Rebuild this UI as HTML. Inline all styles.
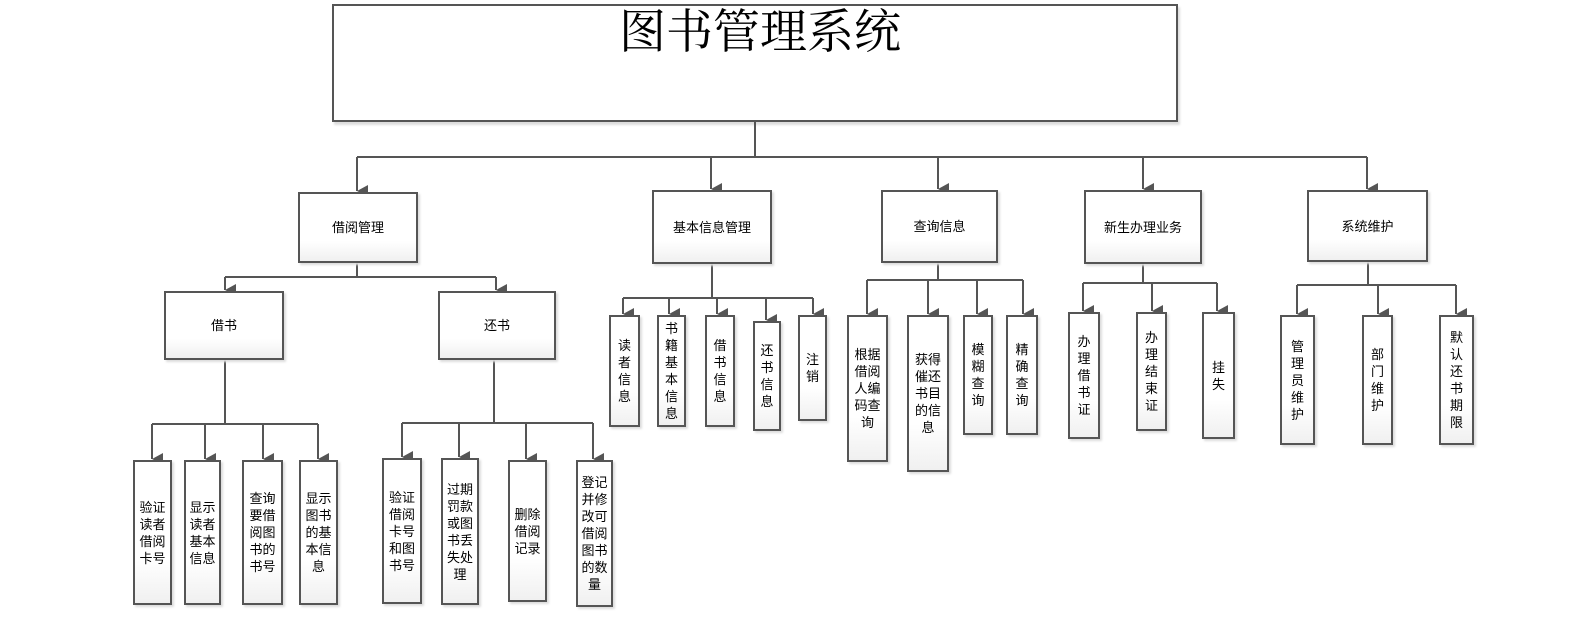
<!DOCTYPE html>
<html><head><meta charset="utf-8"><style>
html,body{margin:0;padding:0;background:#fff;}
body{width:1580px;height:636px;position:relative;overflow:hidden;font-family:"Liberation Sans","Noto Sans CJK SC",sans-serif;}
.b{position:absolute;box-sizing:border-box;border:2px solid #555;background:linear-gradient(#fff 70%,#f0f0f0);display:flex;align-items:center;justify-content:center;text-align:center;font-size:13px;line-height:17px;color:#000;box-shadow:2px 2px 2px #ddd;}
.t{position:absolute;left:332px;top:4px;width:846px;height:118px;box-sizing:border-box;border:2px solid #555;background:#fff;box-shadow:2px 3px 2px #ddd;}
.tt{position:absolute;left:560px;top:4px;width:400px;text-align:center;font-family:"Liberation Serif","Noto Serif CJK SC",serif;font-size:47px;line-height:58px;}
svg{position:absolute;left:0;top:0;}
</style></head><body>
<div class="t"></div>
<div class="tt">图书管理系统</div>
<svg width="1580" height="636">
<defs><marker id="a" markerUnits="userSpaceOnUse" markerWidth="12" markerHeight="12" refX="6" refY="11" orient="auto-start-reverse" viewBox="0 0 12 12"><path d="M0,0 L12,0 L6,11 z" fill="#555"/></marker></defs>
<g stroke="#555" stroke-width="2" fill="none">
<path d="M755 122 V157 M357 157 H1367"/>
<path d="M357 157 V191" marker-end="url(#a)"/>
<path d="M711 157 V189" marker-end="url(#a)"/>
<path d="M938 157 V189" marker-end="url(#a)"/>
<path d="M1143 157 V189" marker-end="url(#a)"/>
<path d="M1367 157 V189" marker-end="url(#a)"/>
<path d="M357 263 V277 M225 277 H496"/>
<path d="M225 277 V290" marker-end="url(#a)"/>
<path d="M496 277 V290" marker-end="url(#a)"/>
<path d="M225 360 V424 M152 424 H318"/>
<path d="M152 424 V459" marker-end="url(#a)"/>
<path d="M205 424 V459" marker-end="url(#a)"/>
<path d="M263 424 V459" marker-end="url(#a)"/>
<path d="M318 424 V459" marker-end="url(#a)"/>
<path d="M494 360 V423 M402 423 H593"/>
<path d="M402 423 V457" marker-end="url(#a)"/>
<path d="M459 423 V457" marker-end="url(#a)"/>
<path d="M526 423 V459" marker-end="url(#a)"/>
<path d="M593 423 V459" marker-end="url(#a)"/>
<path d="M712 264 V298 M623 298 H813"/>
<path d="M623 298 V314" marker-end="url(#a)"/>
<path d="M669 298 V314" marker-end="url(#a)"/>
<path d="M717 298 V314" marker-end="url(#a)"/>
<path d="M766 298 V320" marker-end="url(#a)"/>
<path d="M813 298 V314" marker-end="url(#a)"/>
<path d="M938 263 V280 M867 280 H1023"/>
<path d="M867 280 V314" marker-end="url(#a)"/>
<path d="M928 280 V314" marker-end="url(#a)"/>
<path d="M977 280 V314" marker-end="url(#a)"/>
<path d="M1023 280 V314" marker-end="url(#a)"/>
<path d="M1143 264 V283 M1083 283 H1217"/>
<path d="M1083 283 V311" marker-end="url(#a)"/>
<path d="M1152 283 V311" marker-end="url(#a)"/>
<path d="M1217 283 V311" marker-end="url(#a)"/>
<path d="M1368 262 V285 M1297 285 H1456"/>
<path d="M1297 285 V314" marker-end="url(#a)"/>
<path d="M1378 285 V314" marker-end="url(#a)"/>
<path d="M1456 285 V314" marker-end="url(#a)"/>
</g></svg>

<div class="b" style="left:298px;top:192px;width:120px;height:71px">借阅管理</div>
<div class="b" style="left:652px;top:190px;width:120px;height:74px">基本信息管理</div>
<div class="b" style="left:881px;top:190px;width:117px;height:73px">查询信息</div>
<div class="b" style="left:1084px;top:190px;width:118px;height:74px">新生办理业务</div>
<div class="b" style="left:1307px;top:190px;width:121px;height:72px">系统维护</div>

<div class="b" style="left:164px;top:291px;width:120px;height:69px">借书</div>
<div class="b" style="left:438px;top:291px;width:118px;height:69px">还书</div>

<div class="b" style="left:133px;top:460px;width:39px;height:145px">验证<br>读者<br>借阅<br>卡号</div>
<div class="b" style="left:184px;top:460px;width:37px;height:145px">显示<br>读者<br>基本<br>信息</div>
<div class="b" style="left:242px;top:460px;width:41px;height:145px">查询<br>要借<br>阅图<br>书的<br>书号</div>
<div class="b" style="left:299px;top:460px;width:39px;height:145px">显示<br>图书<br>的基<br>本信<br>息</div>

<div class="b" style="left:382px;top:458px;width:40px;height:146px">验证<br>借阅<br>卡号<br>和图<br>书号</div>
<div class="b" style="left:441px;top:458px;width:38px;height:147px">过期<br>罚款<br>或图<br>书丢<br>失处<br>理</div>
<div class="b" style="left:508px;top:460px;width:39px;height:142px">删除<br>借阅<br>记录</div>
<div class="b" style="left:576px;top:460px;width:37px;height:147px">登记<br>并修<br>改可<br>借阅<br>图书<br>的数<br>量</div>

<div class="b" style="left:609px;top:315px;width:31px;height:112px">读<br>者<br>信<br>息</div>
<div class="b" style="left:657px;top:315px;width:29px;height:112px">书<br>籍<br>基<br>本<br>信<br>息</div>
<div class="b" style="left:705px;top:315px;width:30px;height:112px">借<br>书<br>信<br>息</div>
<div class="b" style="left:753px;top:321px;width:28px;height:110px">还<br>书<br>信<br>息</div>
<div class="b" style="left:798px;top:315px;width:29px;height:106px">注<br>销</div>

<div class="b" style="left:847px;top:315px;width:41px;height:147px">根据<br>借阅<br>人编<br>码查<br>询</div>
<div class="b" style="left:907px;top:315px;width:42px;height:157px">获得<br>催还<br>书目<br>的信<br>息</div>
<div class="b" style="left:963px;top:315px;width:30px;height:120px">模<br>糊<br>查<br>询</div>
<div class="b" style="left:1006px;top:315px;width:32px;height:120px">精<br>确<br>查<br>询</div>

<div class="b" style="left:1068px;top:312px;width:32px;height:127px">办<br>理<br>借<br>书<br>证</div>
<div class="b" style="left:1136px;top:312px;width:31px;height:119px">办<br>理<br>结<br>束<br>证</div>
<div class="b" style="left:1202px;top:312px;width:33px;height:127px">挂<br>失</div>

<div class="b" style="left:1280px;top:315px;width:35px;height:130px">管<br>理<br>员<br>维<br>护</div>
<div class="b" style="left:1362px;top:315px;width:31px;height:130px">部<br>门<br>维<br>护</div>
<div class="b" style="left:1439px;top:315px;width:35px;height:130px">默<br>认<br>还<br>书<br>期<br>限</div>
</body></html>
